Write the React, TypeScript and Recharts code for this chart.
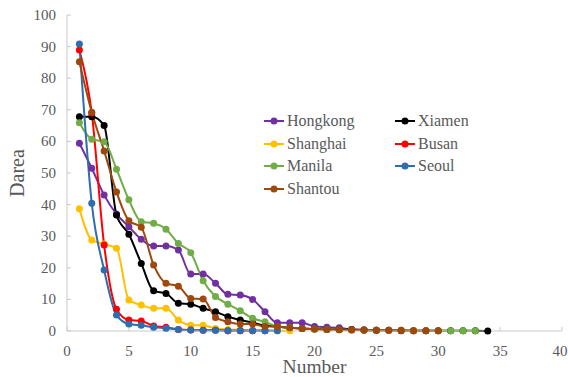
import React from 'react';
import { LineChart, Line, XAxis, YAxis, Legend } from 'recharts';

const numbers = Array.from({ length: 34 }, (_, i) => i + 1);

const hongkong = [59.4, 51.5, 43, 37, 33, 29, 26.9, 26.9, 25.6, 18, 18, 15.1, 11.6, 11.4, 10, 6.1, 2.6, 2.6, 2.6, 1.4, 1.2, 1, 0.5, 0.3, 0.2];
const xiamen = [67.8, 67.8, 65, 36.7, 30.6, 21.4, 12.7, 11.9, 8.8, 8.5, 7.2, 6.1, 4.5, 3.5, 2.6, 1.7, 1.4, 1, 0.8, 0.6, 0.5, 0.5, 0.5, 0.3, 0.2, 0.2, 0.1, 0.1, 0.1, 0.1, 0.1, 0.1, 0.1, 0];
const shanghai = [38.7, 28.8, 27.5, 26.2, 9.8, 8.2, 7.2, 7.2, 3.5, 1.8, 1.8, 0.8, 0.5, 0.4, 0.3, 0.2, 0.1, 0.1];
const busan = [88.9, 69, 27.2, 6.9, 3.5, 3.2, 1.6, 1.2, 0.5, 0.3, 0.2, 0.2, 0.1, 0.1, 0.1, 0.1];
const manila = [65.9, 60.7, 59.9, 51.2, 41.5, 34.6, 34.1, 32.2, 27.7, 24.8, 15.9, 10.9, 8.5, 6.4, 4, 2.9, 1.4, 1, 0.8, 0.6, 0.5, 0.4, 0.3, 0.3, 0.2, 0.2, 0.2, 0.1, 0.1, 0.1, 0.1, 0.1, 0.1];
const seoul = [90.8, 40.4, 19.3, 5.1, 2.2, 1.8, 1.2, 0.9, 0.5, 0.3, 0.2, 0.2, 0.1, 0.1, 0.1, 0.1, 0.1];
const shantou = [85.2, 69.2, 57, 44, 34.9, 32.8, 20.9, 15.1, 14.2, 10.3, 10.1, 4.3, 2.9, 2.2, 2.2, 1.4, 1.4, 1, 0.8, 0.6, 0.5, 0.4, 0.3, 0.3, 0.2, 0.2, 0.2, 0.1, 0.1, 0.1];

const xTicks = [0, 5, 10, 15, 20, 25, 30, 35, 40];
const yTicks = [0, 10, 20, 30, 40, 50, 60, 70, 80, 90, 100];

const series = [
  { key: 'Hongkong', values: hongkong, color: '#7030A0' },
  { key: 'Xiamen', values: xiamen, color: '#000000' },
  { key: 'Shanghai', values: shanghai, color: '#FFC000' },
  { key: 'Busan', values: busan, color: '#FF0000' },
  { key: 'Manila', values: manila, color: '#70AD47' },
  { key: 'Seoul', values: seoul, color: '#2E6DAE' },
  { key: 'Shantou', values: shantou, color: '#9E480E' },
];

const data = numbers.map((n, i) => {
  const row: Record<string, number | undefined> = { n };
  series.forEach(s => {
    row[s.key] = s.values[i];
  });
  return row;
});

const FONT = '"Liberation Serif", "Times New Roman", serif';
const GRAY = '#595959';
const AXIS = '#c9c9c9';

// ticks drawn by hand so the serif font sticks
const XTick = (props: any) => (
  <text x={props.x} y={props.y + 10.5} textAnchor="middle" fill={GRAY} fontSize={15} fontFamily={FONT}>
    {props.payload.value}
  </text>
);

const YTick = (props: any) => (
  <text x={props.x} y={props.y + 5} textAnchor="end" fill={GRAY} fontSize={15} fontFamily={FONT}>
    {props.payload.value}
  </text>
);

const LegendBox = () => (
  <div
    style={{
      display: 'grid',
      gridTemplateColumns: '131px 100px',
      gridAutoRows: '22.5px',
      fontFamily: FONT,
      fontSize: 16,
      color: GRAY,
    }}
  >
    {series.map(s => (
      <div key={s.key} style={{ display: 'flex', alignItems: 'center' }}>
        <svg width={22} height={10} style={{ marginRight: 1 }}>
          <line x1={0} y1={5} x2={20} y2={5} stroke={s.color} strokeWidth={2} />
          <circle cx={10} cy={5} r={3.5} fill={s.color} />
        </svg>
        <span style={{ fontFamily: FONT }}>{s.key}</span>
      </div>
    ))}
  </div>
);

export default function App() {
  return (
    <div style={{ position: 'absolute', left: 0, top: 0, fontFamily: FONT }}>
      <LineChart width={568} height={377} data={data} margin={{ top: 15, right: 6, bottom: 0, left: 0 }}>
        <XAxis
          dataKey="n"
          type="number"
          domain={[0, 40]}
          ticks={xTicks}
          height={46}
          stroke={AXIS}
          tickSize={-4}
          tickMargin={18}
          tick={<XTick />}
          label={{
            content: (props: any) => {
              const vb = props.viewBox;
              return (
                <text x={vb.x + vb.width / 2} y={vb.y + 42} textAnchor="middle" fill={GRAY} fontSize={19.5} fontFamily={FONT}>
                  Number
                </text>
              );
            },
          }}
        />
        <YAxis
          type="number"
          domain={[0, 100]}
          ticks={yTicks}
          width={67}
          stroke={AXIS}
          tickSize={-4}
          tickMargin={15}
          tick={<YTick />}
          label={{
            content: (props: any) => {
              const vb = props.viewBox;
              const cx = vb.x + 24;
              const cy = vb.y + vb.height / 2;
              return (
                <text x={cx} y={cy} transform={`rotate(-90 ${cx} ${cy})`} textAnchor="middle" fill={GRAY} fontSize={20} fontFamily={FONT}>
                  Darea
                </text>
              );
            },
          }}
        />
        <Legend
          content={<LegendBox />}
          layout="horizontal"
          verticalAlign="middle"
          align="center"
          wrapperStyle={{ left: 264, top: 110, width: 240 }}
        />
        {series.map(s => (
          <Line
            key={s.key}
            dataKey={s.key}
            type="monotone"
            stroke={s.color}
            strokeWidth={2}
            dot={{ r: 3.5, fill: s.color, stroke: s.color, strokeWidth: 0 }}
            activeDot={false}
            isAnimationActive={false}
          />
        ))}
      </LineChart>
    </div>
  );
}
